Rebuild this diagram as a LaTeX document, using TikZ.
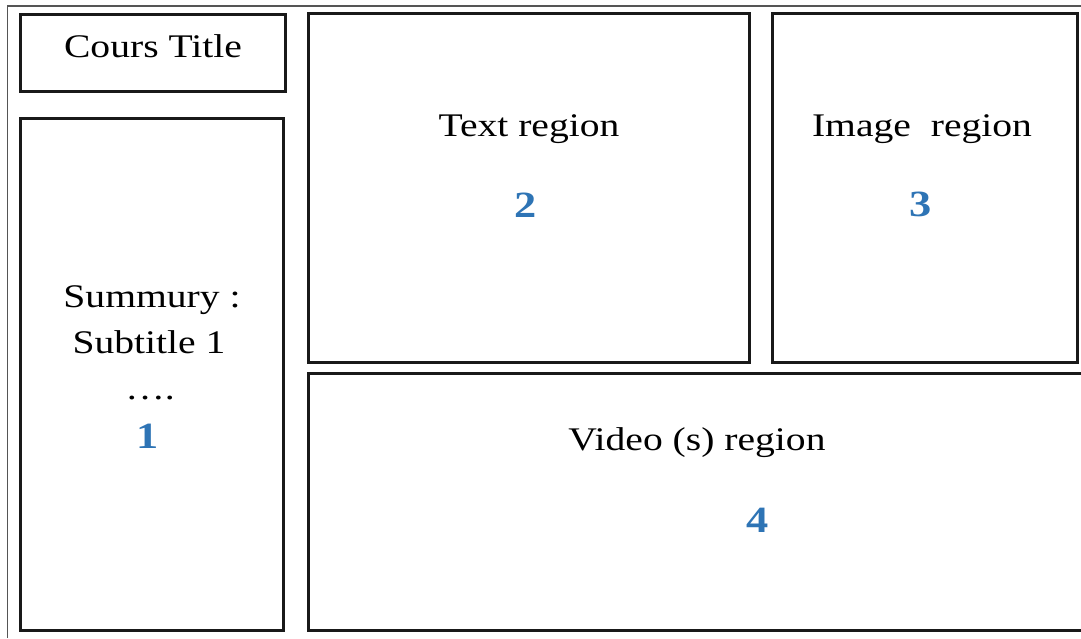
\documentclass[tikz,border=0pt]{standalone}
\usepackage{fontspec}
\setmainfont{Liberation Serif}[FakeStretch=1.2]
\definecolor{numblue}{HTML}{2E74B5}
\definecolor{framegray}{HTML}{555555}
\begin{document}
\begin{tikzpicture}[x=0.5pt,y=-0.5pt,
  box/.style={draw=black!90, line width=1.5pt},
  label/.style={anchor=base, inner sep=0pt, font=\fontsize{16.5pt}{20pt}\selectfont},
  num/.style={anchor=base, inner sep=0pt, text=numblue,
    font=\fontsize{18.5pt}{22pt}\selectfont\bfseries}]
  \useasboundingbox (0,0) rectangle (1081,638);
  \fill[white] (0,0) rectangle (1081,638);
  % outer page frame (cut off at right and bottom)
  \draw[framegray, line width=0.6pt] (7.5,638) -- (7.5,6) -- (1081,6);
  % layout regions
  \draw[box] (20,14) rectangle (285,91);
  \draw[box] (20,118) rectangle (283,630);
  \draw[box] (308,13) rectangle (749,362);
  \draw[box] (772,13) rectangle (1077,362);
  \draw[box] (308,373) rectangle (1082,630);
  % title
  \node[label] (title) at (153,57) {Cours Title};
  % summary column
  \node[label] (summ) at (152,307) {Summury :};
  \node[label] (sub1) at (149,353) {Subtitle 1};
  \node[label] (dots) at (150,399) {….};
  \node[num] (n1) at (148,448) {1};
  % text region
  \node[label] (txt) at (529,136) {Text region};
  \node[num] (n2) at (526,217) {2};
  % image region
  \node[label] (img) at (922,136) {Image\ \ region};
  \node[num] (n3) at (921,216) {3};
  % video region
  \node[label] (vid) at (697,450) {Video (s) region};
  \node[num] (n4) at (758,532) {4};
\end{tikzpicture}
\end{document}
